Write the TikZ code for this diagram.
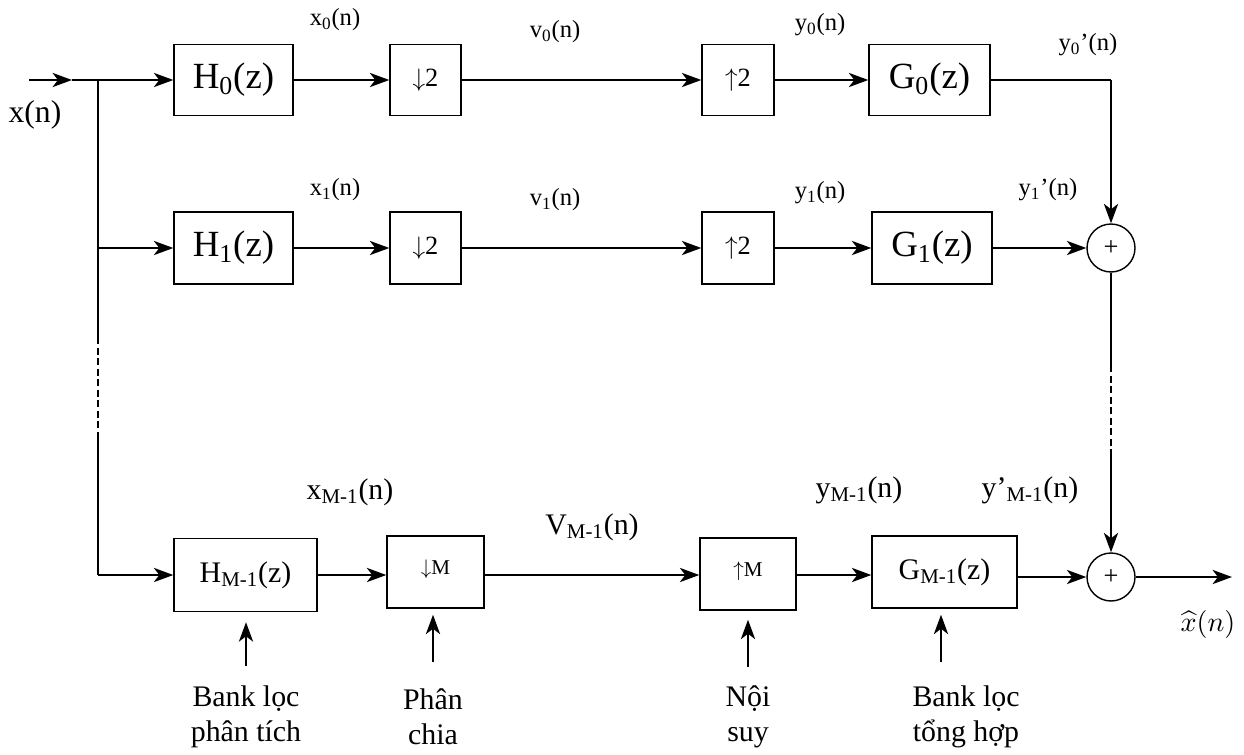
\documentclass[tikz,border=0pt]{standalone}
\usepackage{fontspec}
\setmainfont{Liberation Serif}
\usetikzlibrary{arrows.meta,calc}

\begin{document}
\begin{tikzpicture}[x=0.02cm,y=-0.02cm,
    blk/.style={draw,line width=0.8pt,inner sep=0pt},
    sumnode/.style={draw,circle,line width=0.8pt,minimum size=0.96cm,inner sep=0pt,font=\fontsize{15}{17}\selectfont},
    sig/.style={line width=1.6pt,-{Stealth[length=11pt,width=8pt,inset=3pt]}},
    thinln/.style={line width=0.9pt},
    bigtxt/.style={font=\fontsize{21}{25}\selectfont},
    midtxt/.style={font=\fontsize{17}{20}\selectfont},
    smalltxt/.style={font=\fontsize{14}{17}\selectfont},
    ratetxt/.style={font=\fontsize{15}{18}\selectfont},
    notetxt/.style={font=\fontsize{17}{20}\selectfont,align=center}]
    \useasboundingbox (0,0) rectangle (1244,754);

    % input and branch points
    \coordinate (in) at (29,80);
    \coordinate (inm) at (72,80);
    \coordinate (j0) at (98,80);
    \coordinate (j1) at (98,248);
    \coordinate (j2) at (98,575);
    \coordinate (l1) at (98,337);
    \coordinate (l2) at (98,435);
    \node[font=\fontsize{18}{22}\selectfont] (xin) at (35,115) {x(n)};

    % row 0
    \node[blk,bigtxt,minimum width=2.38cm,minimum height=1.42cm] (H0) at (233.5,80) {H\textsubscript{0}(z)};
    \node[blk,ratetxt,minimum width=1.42cm,minimum height=1.42cm] (d0) at (425.5,80) {\raisebox{0.1cm}{$\downarrow$2}};
    \node[blk,ratetxt,minimum width=1.44cm,minimum height=1.42cm] (u0) at (738,80) {\raisebox{0.1cm}{$\uparrow$2}};
    \node[blk,bigtxt,minimum width=2.42cm,minimum height=1.42cm] (G0) at (929.5,80) {G\textsubscript{0}(z)};

    % row 1
    \node[blk,bigtxt,minimum width=2.38cm,minimum height=1.44cm] (H1) at (233.5,248) {H\textsubscript{1}(z)};
    \node[blk,ratetxt,minimum width=1.42cm,minimum height=1.44cm] (d1) at (425.5,248) {\raisebox{0.1cm}{$\downarrow$2}};
    \node[blk,ratetxt,minimum width=1.44cm,minimum height=1.44cm] (u1) at (738,248) {\raisebox{0.1cm}{$\uparrow$2}};
    \node[blk,bigtxt,minimum width=2.4cm,minimum height=1.44cm] (G1) at (932,248) {G\textsubscript{1}(z)};
    \node[sumnode] (s1) at (1111,248) {\raisebox{-0.12cm}{+}};

    % row M-1
    \node[blk,midtxt,minimum width=2.86cm,minimum height=1.46cm] (HM) at (245.5,575) {H\textsubscript{M-1}(z)};
    \node[blk,minimum width=1.94cm,minimum height=1.44cm,font=\fontsize{12}{14}\selectfont] (dM) at (435.5,572) {\raisebox{0.2cm}{$\downarrow$M}};
    \node[blk,minimum width=1.92cm,minimum height=1.44cm,font=\fontsize{12}{14}\selectfont] (uM) at (748,574) {\raisebox{0.2cm}{$\uparrow$M}};
    \node[blk,midtxt,minimum width=2.9cm,minimum height=1.44cm] (GM) at (944.5,572) {G\textsubscript{M-1}(z)};
    \node[sumnode] (s2) at (1111,577) {\raisebox{-0.12cm}{+}};

    % right side points
    \coordinate (c0) at (1111,80);
    \coordinate (r1) at (1111,365);
    \coordinate (r2) at (1111,453);
    \coordinate (out) at (1232,577);

    % connectors
    \draw[sig] (in) -- (inm);
    \draw[line width=1.6pt] (inm) -- (j0);
    \draw[thinln] (j0) -- (l1);
    \draw[thinln,dash pattern=on 4pt off 2pt] (l1) -- (l2);
    \draw[thinln] (l2) -- (j2);
    \draw[sig] (j0) -- (H0);
    \draw[sig] (j1) -- (H1);
    \draw[sig] (j2) -- (HM);
    \draw[sig] (H0) -- (d0);
    \draw[sig] (d0) -- (u0);
    \draw[sig] (u0) -- (G0);
    \draw[sig] (H1) -- (d1);
    \draw[sig] (d1) -- (u1);
    \draw[sig] (u1) -- (G1);
    \draw[sig] (HM) -- (HM -| dM.west);
    \draw[sig] (dM.east |- HM) -- (uM.west |- HM);
    \draw[sig] (uM.east |- HM) -- (GM.west |- HM);
    \draw[thinln] (G0) -- (c0);
    \draw[sig] (c0) -- (s1);
    \draw[sig] (G1) -- (s1);
    \draw[thinln] (s1) -- (r1);
    \draw[thinln,dash pattern=on 4pt off 2pt] (r1) -- (r2);
    \draw[sig] (r2) -- (s2);
    \draw[sig] (GM.east |- s2) -- (s2);
    \draw[sig] (s2) -- (out);

    % signal labels
    \node[smalltxt] (x0lab) at (335,20) {x\textsubscript{0}(n)};
    \node[smalltxt] (v0lab) at (555,32) {v\textsubscript{0}(n)};
    \node[smalltxt] (y0lab) at (820,25) {y\textsubscript{0}(n)};
    \node[smalltxt] (y0plab) at (1088,45) {y\textsubscript{0}’(n)};
    \node[smalltxt] (x1lab) at (335,190) {x\textsubscript{1}(n)};
    \node[smalltxt] (v1lab) at (555,200) {v\textsubscript{1}(n)};
    \node[smalltxt] (y1lab) at (820,193) {y\textsubscript{1}(n)};
    \node[smalltxt] (y1plab) at (1048,190) {y\textsubscript{1}’(n)};
    \node[midtxt] (xMlab) at (350,492) {x\textsubscript{M-1}(n)};
    \node[midtxt] (vMlab) at (592,527) {V\textsubscript{M-1}(n)};
    \node[midtxt] (yMlab) at (859,490) {y\textsubscript{M-1}(n)};
    \node[midtxt] (yMplab) at (1030,490) {y’\textsubscript{M-1}(n)};
    \node (xhat) at (1208,624) {\scalebox{1.6}{$\widehat{x}(n)$}};

    % notes below
    \node[notetxt] (nA) at (246,717) {Bank lọc\\phân tích};
    \node[notetxt] (nB) at (433,717) {Phân\\chia};
    \node[notetxt] (nC) at (748,717) {Nội\\suy};
    \node[notetxt] (nD) at (966,717) {Bank lọc\\tổng hợp};
    \coordinate (aA) at (246,666);
    \coordinate (aB) at (433,662);
    \coordinate (aC) at (748,667);
    \coordinate (aD) at (941,662);
    \draw[sig,shorten >=0.2cm] (aA) -- (aA |- HM.south);
    \draw[sig,shorten >=0.12cm] (aB) -- (aB |- dM.south);
    \draw[sig,shorten >=0.18cm] (aC) -- (aC |- uM.south);
    \draw[sig,shorten >=0.12cm] (aD) -- (aD |- GM.south);
\end{tikzpicture}
\end{document}
